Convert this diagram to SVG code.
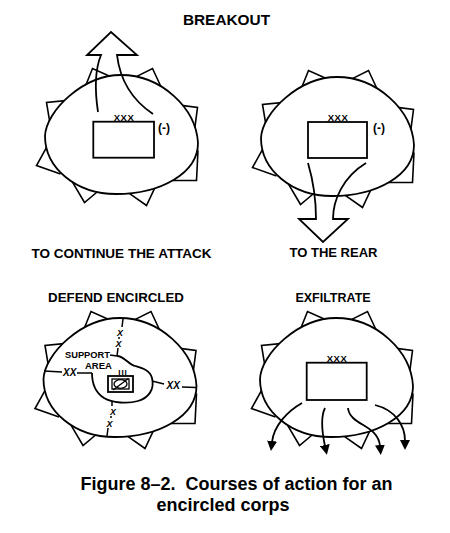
<svg xmlns="http://www.w3.org/2000/svg" xmlns:xlink="http://www.w3.org/1999/xlink" width="450" height="533" viewBox="0 0 450 533">
<style>
.egg{fill:#fff;stroke:#000;stroke-width:1.8}
.tri{fill:#fff;stroke:#000;stroke-width:1.6;stroke-linejoin:miter}
.ln{fill:none;stroke:#000;stroke-width:1.8;stroke-linejoin:miter}
.thin{fill:none;stroke:#000;stroke-width:1.5}
.box{fill:#fff;stroke:#000;stroke-width:1.8}
.t{font-family:"Liberation Sans",Arial,Helvetica,sans-serif;font-weight:bold;fill:#000}
.it{font-family:"Liberation Sans",Arial,Helvetica,sans-serif;font-weight:bold;font-style:italic;fill:#000}
.m{text-anchor:middle}
</style>
<defs>
<g id="encl">
<polyline class="tri" points="-4.5,-53.7 -28.5,-64.5 -35.7,-46.5"/>
<polyline class="tri" points="12.3,-54.9 31.5,-64.5 39.9,-46.5"/>
<polyline class="tri" points="-50.5,-32.9 -74.5,-30.5 -70.9,-8.9"/>
<polyline class="tri" points="58.5,-27.9 76.5,-25.5 72.9,2.1"/>
<polyline class="tri" points="-72.5,10.9 -84.5,32.5 -60.5,40.9"/>
<polyline class="tri" points="77,17.5 75.5,47.5 51.5,47.5"/>
<polyline class="tri" points="-48.5,49.1 -36.5,69.5 -22.1,57.5"/>
<polyline class="tri" points="5.1,58.1 25.5,72.5 35.1,52.1"/>
<path class="egg" d="M0,-58 C40,-58 75,-25 77,10 C77,40 40,61 -5,61 C-45,61 -76,35 -76,3 C-75,-22 -38,-58 0,-58 Z"/>
</g>
<marker id="ah" viewBox="0 0 10 10" refX="1" refY="5" markerWidth="10" markerHeight="10" markerUnits="userSpaceOnUse" orient="auto">
<path d="M0,0 L10,5 L0,10 Z" fill="#000"/>
</marker>
</defs>
<rect width="450" height="533" fill="#fff"/>

<text class="t m" x="226.5" y="25" font-size="15.4">BREAKOUT</text>

<g id="breakout-attack">
<use xlink:href="#encl" href="#encl" transform="translate(121,133)"/>
<rect class="box" x="93.3" y="121.7" width="60.7" height="36"/>
<text class="t m" x="124" y="121" font-size="9.5" letter-spacing="0.5">XXX</text>
<text class="t" x="158" y="132" font-size="12">(-)</text>
<text class="t m" x="121.5" y="258" font-size="13.5">TO CONTINUE THE ATTACK</text>
</g>

<g id="breakout-rear">
<use xlink:href="#encl" href="#encl" transform="translate(337,135)"/>
<rect class="box" x="308" y="122" width="59" height="36"/>
<text class="t m" x="338" y="121" font-size="9.5" letter-spacing="0.5">XXX</text>
<text class="t" x="373" y="132" font-size="12">(-)</text>
<text class="t m" x="333.5" y="257" font-size="13">TO THE REAR</text>
</g>

<g id="defend-encircled">
<text class="t m" x="116" y="302" font-size="13.3">DEFEND ENCIRCLED</text>
<use xlink:href="#encl" href="#encl" transform="translate(119.5,376)"/>
<path class="ln" d="M117,356 C124,356 128,364 135,366 C142,368 150,370 152,378 C155,390 148,398 138,401 C128,404 112,403 104,398 C96,393 92,385 92,373"/>
<line class="thin" x1="123" y1="319" x2="122" y2="327"/>
<text class="it m" x="120" y="335.5" font-size="9">X</text>
<line class="thin" x1="119" y1="337" x2="119" y2="339"/>
<text class="it m" x="118.5" y="346.5" font-size="9">X</text>
<line class="thin" x1="118" y1="348" x2="117" y2="356"/>
<line class="thin" x1="110" y1="355" x2="117" y2="356"/>
<text class="t" x="65" y="358" font-size="9.3">SUPPORT</text>
<text class="t" x="85" y="369" font-size="9.5">AREA</text>
<line class="thin" x1="44" y1="371" x2="62" y2="372"/>
<text class="it" x="63" y="376" font-size="10">XX</text>
<line class="thin" x1="77" y1="373" x2="92" y2="373"/>
<line class="thin" x1="152" y1="381" x2="164" y2="384"/>
<text class="it" x="166.5" y="389" font-size="10">XX</text>
<line class="thin" x1="182" y1="387" x2="196" y2="387.5"/>
<line class="thin" x1="112" y1="402" x2="112" y2="406"/>
<text class="it m" x="113" y="414.5" font-size="9">X</text>
<line class="thin" x1="111" y1="416" x2="111" y2="418"/>
<text class="it m" x="109.5" y="426.5" font-size="9">X</text>
<line class="thin" x1="108" y1="428" x2="107" y2="436"/>
<rect class="box" x="108" y="376" width="25" height="16"/>
<rect x="112" y="379" width="17" height="10" fill="none" stroke="#000" stroke-width="1.3"/>
<ellipse cx="120.5" cy="384" rx="6.5" ry="4.3" fill="none" stroke="#000" stroke-width="1.3"/>
<line x1="113" y1="390" x2="128.5" y2="378.5" stroke="#000" stroke-width="1.3"/>
<text class="t m" x="123" y="375" font-size="8" letter-spacing="1">III</text>
</g>

<g id="exfiltrate">
<text class="t m" x="333" y="302" font-size="12.5">EXFILTRATE</text>
<use xlink:href="#encl" href="#encl" transform="translate(336,376)"/>
<rect class="box" x="306.7" y="362.7" width="60" height="37.3"/>
<text class="t m" x="337" y="362" font-size="9.5" letter-spacing="0.5">XXX</text>
</g>

<g id="connectors">
<path class="ln" d="M98,112 C95,92 94,72 101,55 L87,55 L111,32 L137,55 L117,55 C120,80 132,100 153,114"/>
<path class="ln" d="M308,163 C313,180 316,200 316,219 L299,219 L323,242 L348,219 L333,219 C333,200 343,177 366,163"/>
<path class="ln" marker-end="url(#ah)" d="M302,403 C288,411 274,425 272,442"/>
<path class="ln" marker-end="url(#ah)" d="M325,408 C320,418 322,432 325,446"/>
<path class="ln" marker-end="url(#ah)" d="M348,408 C350,426 378,424 380,446"/>
<path class="ln" marker-end="url(#ah)" d="M375,405 C395,410 405,425 405,441"/>
</g>

<text class="t m" x="236.5" y="489.5" font-size="18" xml:space="preserve">Figure 8–2.  Courses of action for an</text>
<text class="t m" x="223" y="510.5" font-size="18">encircled corps</text>
</svg>
